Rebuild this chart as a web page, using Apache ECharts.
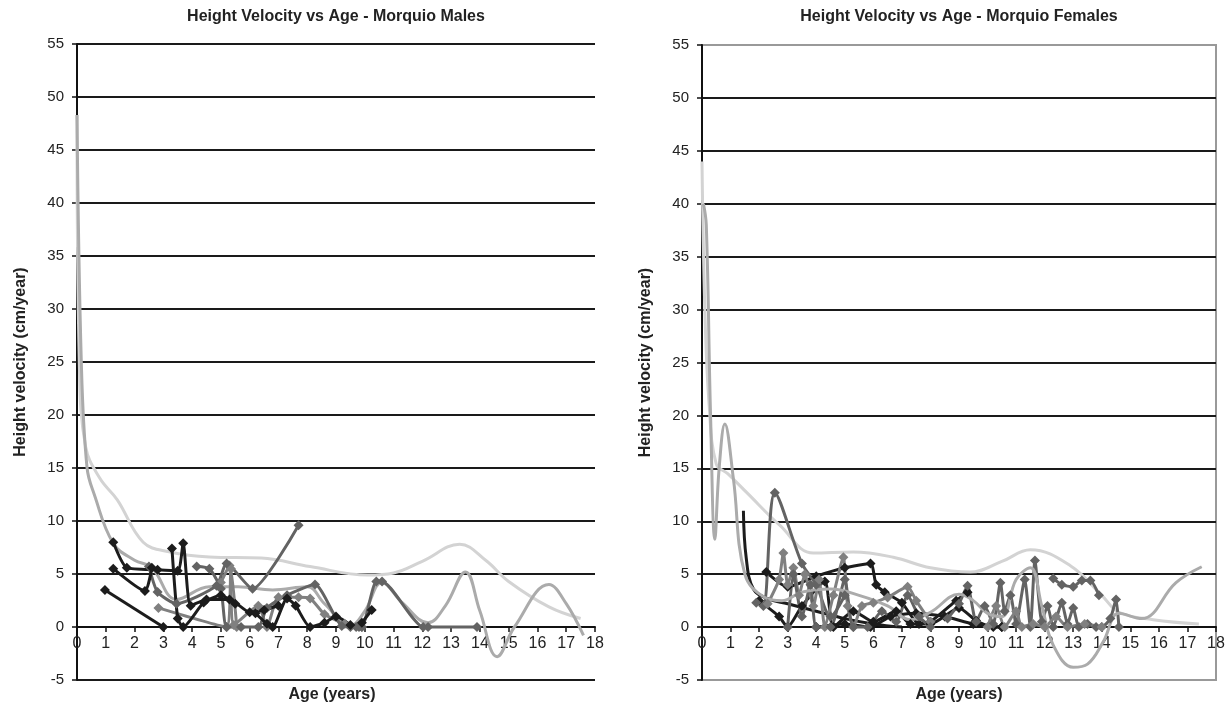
<!DOCTYPE html>
<html><head><meta charset="utf-8">
<script src="https://cdn.jsdelivr.net/npm/echarts@6/dist/echarts.min.js"></script>
<style>html,body{margin:0;padding:0;background:#fff}#c{width:1231px;height:711px}</style>
</head><body><div id="c"></div>
<script>
// ---------- tick/label data ----------
const ageMin = 0, ageMax = 18, ageStep = 1;
const velMin = -5, velMax = 55, velStep = 5;
const titles = ['Height Velocity vs Age - Morquio Males', 'Height Velocity vs Age - Morquio Females'];
const xName = 'Age (years)';
const yName = 'Height velocity (cm/year)';

// ---------- males: [age, velocity] ----------
const maleLight = [[0,48.3],[0.08,25],[0.3,17],[0.8,14],[1.4,12],[2.3,8],[3.2,7.1],[4.6,6.6],[6.4,6.5],[8.1,5.7],[10.1,4.9],[11.0,5.1],[12.0,6.2],[13.3,7.8],[14.2,6.3],[15.0,4.3],[16.4,1.9],[17.5,0.8]];
const maleGrey = [[0,48.3],[0.15,25],[0.35,15],[0.6,12.5],[1.26,7.9],[2.0,6.3],[2.6,5.6],[3.46,2.6],[4.6,3.8],[5.6,3.8],[6.8,3.5],[8.0,3.8],[8.6,2.2],[9.5,0.1],[10.0,1.5],[10.6,4.2],[11.3,2.3],[12.2,0.4],[12.8,2.0],[13.5,5.2],[14.0,1.5],[14.6,-2.8],[15.2,0.0],[16.4,4.0],[17.0,2.2],[17.6,-0.8]];
const maleDark1 = [[2.5,5.7],[2.8,3.3],[3.46,2.2],[4.85,3.9],[5.2,6.0],[6.1,3.6],[7.7,9.6]];
const maleDark2 = [[4.16,5.7],[4.6,5.5],[5.0,3.6],[5.2,0],[5.7,0],[6.3,0],[6.6,1.8],[7.3,3.0],[8.27,4.0],[9.2,0.1],[9.7,0]];
const maleMid1 = [[2.83,1.8],[5.2,0.0],[5.35,5.5],[5.55,0]];
const maleMid2 = [[5.0,4.2],[5.3,5.8],[5.45,0.2],[6.3,2.0],[6.6,0],[7.0,2.8],[7.7,2.8],[8.1,2.7],[8.6,1.2],[9.3,0.3],[9.9,0]];
const maleDark3 = [[9.5,0],[9.8,0],[9.9,0],[10.4,4.3],[10.6,4.3],[12.03,0],[12.2,0],[13.9,0]];
const maleBlack1 = [[0.97,3.5],[3.0,0]];
const maleBlack2 = [[1.26,5.5],[2.36,3.4],[2.6,5.6]];
const maleBlack3 = [[1.26,8.0],[1.73,5.6],[2.8,5.4],[3.5,5.3],[3.69,7.9],[3.95,2.0],[4.5,2.6],[5.3,2.6],[6.0,1.4],[6.5,1.6],[7.0,2.0]];
const maleBlack4 = [[3.3,7.4],[3.5,0.8],[3.69,0],[4.4,2.3],[5.0,3.0],[5.5,2.2]];
const maleBlack5 = [[6.2,1.3],[6.6,0.3],[6.8,0],[7.3,2.7],[7.6,2.0],[8.1,0],[8.6,0.4],[9.0,1.0],[9.5,0.2]];
const maleBlack6 = [[9.9,0.4],[10.24,1.6]];

// ---------- females: [age, velocity] ----------
const femLight = [[0,44],[0.1,30],[0.25,21],[0.5,15.4],[0.9,14.5],[1.57,12.7],[2.73,9.6],[3.9,7.0],[5.3,7.1],[6.7,6.6],[8.0,5.6],[9.4,5.2],[10.5,6.2],[11.5,7.3],[12.9,5.8],[14.0,3.0],[14.6,1.4],[15.8,0.7],[17.4,0.3]];
const femGrey = [[0.05,40],[0.15,38],[0.3,20],[0.45,8.3],[0.6,15],[0.8,19.2],[1.1,14],[1.5,5.0],[2.2,2.8],[2.8,2.5],[3.5,3.3],[4.5,3.6],[5.5,3.0],[6.5,2.0],[7.3,0.7],[8.0,1.4],[9.0,3.1],[9.5,2.5],[10.0,1.3],[10.5,1.0],[11.0,4.5],[11.5,5.6],[11.9,2.0],[12.3,-1.7],[13.0,-3.8],[13.5,-3.5],[14.05,-1.4],[14.6,1.3],[15.4,0.8],[16.6,4.2],[17.5,5.7]];
const femBlack1 = [[1.45,11.0],[1.55,6.5],[1.8,3.6],[2.3,2.7],[3.0,2.2],[4.0,1.5],[5.0,0.8],[6.0,0.3],[7.0,0]];
const femBlack2 = [[2.25,5.2],[3.0,3.8],[4.0,4.8],[5.0,5.6],[5.9,6.0],[6.1,4.0],[6.4,3.3],[7.0,2.3],[7.6,0.3],[8.0,0.5],[8.9,2.5],[9.3,3.3]];
const femBlack3 = [[2.0,2.5],[2.7,1.0],[3.0,0],[3.5,2.0],[4.3,4.3],[4.6,0],[5.3,1.5],[6.0,0.5],[6.8,1.5],[7.3,0.3],[8.0,0.3],[9.0,1.8],[9.6,0.6],[10.2,0],[10.5,0]];
const femBlack4 = [[4.0,0],[5.0,0.3],[5.9,0],[6.6,1.0],[7.5,1.3],[8.5,1.0],[9.5,0.3],[10.5,0]];
const femDark1 = [[1.9,2.3],[2.15,2.0],[2.55,12.7],[3.5,6.0],[4.0,4.0],[4.5,1.0],[5.0,3.0]];
const femDark2 = [[2.3,2.2],[2.7,4.5],[2.85,7.0],[3.0,4.0],[3.2,5.6],[3.4,3.0],[3.6,5.0],[3.9,2.0],[4.1,4.5],[4.3,0],[4.6,3.0],[4.95,6.6],[5.1,2.0],[5.3,0],[5.6,2.0],[6.0,2.3],[6.5,2.8],[7.2,3.8],[7.5,2.5],[8.0,0.5]];
const femDark3 = [[3.0,0],[3.2,5.0],[3.5,1.0],[3.8,4.0],[4.0,0],[4.5,0],[5.0,4.5],[5.3,0],[5.8,0],[6.3,1.5],[6.8,0.5],[7.2,3.0],[7.6,1.0],[8.0,0]];
const femDark4 = [[8.6,0.8],[9.0,2.2],[9.3,3.9],[9.6,0.5],[9.9,2.0],[10.2,0.3],[10.45,4.2],[10.6,1.5],[10.8,3.0],[11.0,0.3],[11.3,4.5],[11.5,0],[11.66,6.3],[11.9,0.5],[12.1,2.0],[12.3,0],[12.6,2.3],[12.8,0.3],[13.0,1.8],[13.2,0],[13.5,0.3],[13.8,0],[14.0,0],[14.3,0.8],[14.5,2.6],[14.6,0]];
const femDark5 = [[12.3,4.6],[12.6,4.0],[13.0,3.8],[13.3,4.4],[13.6,4.4],[13.9,3.0]];
const femDark6 = [[10.0,0],[10.3,2.0],[10.6,0],[11.0,1.5],[11.2,0],[11.6,0.3],[12.0,0],[12.4,1.0],[12.8,0],[13.4,0.3],[14.0,0]];

// ---------- styles ----------
const C_LIGHT = '#d3d3d3', C_GREY = '#ababab', C_MID = '#808080', C_DARK = '#636363', C_BLACK = '#1c1c1c';
const FONT = '"Liberation Sans", Arial, sans-serif';

function ser(data, color, idx, marker, smooth) {
  return {
    type: 'line', data: data, xAxisIndex: idx, yAxisIndex: idx,
    smooth: smooth, showSymbol: marker, symbol: 'diamond', symbolSize: 10,
    lineStyle: { color: color, width: 3 }, itemStyle: { color: color },
    silent: true, animation: false, z: 3
  };
}

const series = [
  ser(maleLight, C_LIGHT, 0, false, 0.4),
  ser(maleGrey, C_GREY, 0, false, 0.4),
  ser(maleMid1, C_MID, 0, true, 0.2),
  ser(maleMid2, C_MID, 0, true, 0.2),
  ser(maleDark1, C_DARK, 0, true, 0.2),
  ser(maleDark2, C_DARK, 0, true, 0.2),
  ser(maleDark3, C_DARK, 0, true, 0.2),
  ser(maleBlack1, C_BLACK, 0, true, 0.2),
  ser(maleBlack2, C_BLACK, 0, true, 0.2),
  ser(maleBlack3, C_BLACK, 0, true, 0.2),
  ser(maleBlack4, C_BLACK, 0, true, 0.2),
  ser(maleBlack5, C_BLACK, 0, true, 0.2),
  ser(maleBlack6, C_BLACK, 0, true, 0.2),
  ser(femLight, C_LIGHT, 1, false, 0.4),
  ser(femBlack1, C_BLACK, 1, false, 0.4),
  ser(femBlack2, C_BLACK, 1, true, 0.2),
  ser(femBlack3, C_BLACK, 1, true, 0.2),
  ser(femBlack4, C_BLACK, 1, true, 0.2),
  ser(femDark1, C_DARK, 1, true, 0.3),
  ser(femDark2, C_MID, 1, true, 0.2),
  ser(femDark3, C_DARK, 1, true, 0.2),
  ser(femDark4, C_DARK, 1, true, 0.2),
  ser(femDark5, C_DARK, 1, true, 0.2),
  ser(femDark6, C_MID, 1, true, 0.2),
  ser(femGrey, C_GREY, 1, false, 0.4)
];

function xAx(idx) {
  return {
    type: 'value', gridIndex: idx, min: ageMin, max: ageMax, interval: ageStep,
    position: 'bottom', offset: -53,
    axisLine: { onZero: false, lineStyle: { color: '#111', width: 2 } },
    axisTick: { show: true, length: 5, lineStyle: { color: '#111', width: 1.5 } },
    axisLabel: { fontSize: 16, color: '#222', fontFamily: FONT, margin: 9 },
    splitLine: { show: false }
  };
}
function yAx(idx, edgeLines) {
  return {
    type: 'value', gridIndex: idx, min: velMin, max: velMax, interval: velStep,
    axisLine: { show: true, onZero: false, lineStyle: { color: '#111', width: 2 } },
    axisTick: { show: true, length: 5, lineStyle: { color: '#111', width: 1.5 } },
    axisLabel: { fontSize: 15, color: '#222', fontFamily: FONT, margin: 13 },
    splitLine: { show: true, showMinLine: edgeLines, showMaxLine: edgeLines, lineStyle: { color: '#1a1a1a', width: 2 } },
    name: yName, nameLocation: 'middle', nameGap: 48, nameRotate: 90,
    nameTextStyle: { fontWeight: 'bold', fontSize: 16, color: '#222', fontFamily: FONT }
  };
}

const chart = echarts.init(document.getElementById('c'), null, { renderer: 'canvas' });
chart.setOption({
  backgroundColor: '#fff',
  animation: false,
  grid: [
    { left: 77, top: 44, width: 518, height: 636, show: false },
    { left: 702, top: 45, width: 514, height: 635, show: true, borderColor: '#999', borderWidth: 2, backgroundColor: 'transparent' }
  ],
  xAxis: [xAx(0), xAx(1)],
  yAxis: [yAx(0, true), yAx(1, false)],
  series: series,
  graphic: [
    { type: 'text', x: 336, y: 17, style: { text: titles[0], align: 'center', verticalAlign: 'middle', font: 'bold 16px ' + FONT, fill: '#222' } },
    { type: 'text', x: 959, y: 17, style: { text: titles[1], align: 'center', verticalAlign: 'middle', font: 'bold 16px ' + FONT, fill: '#222' } },
    { type: 'text', x: 332, y: 695, style: { text: xName, align: 'center', verticalAlign: 'middle', font: 'bold 16px ' + FONT, fill: '#222' } },
    { type: 'text', x: 959, y: 695, style: { text: xName, align: 'center', verticalAlign: 'middle', font: 'bold 16px ' + FONT, fill: '#222' } }
  ]
});
</script></body></html>
